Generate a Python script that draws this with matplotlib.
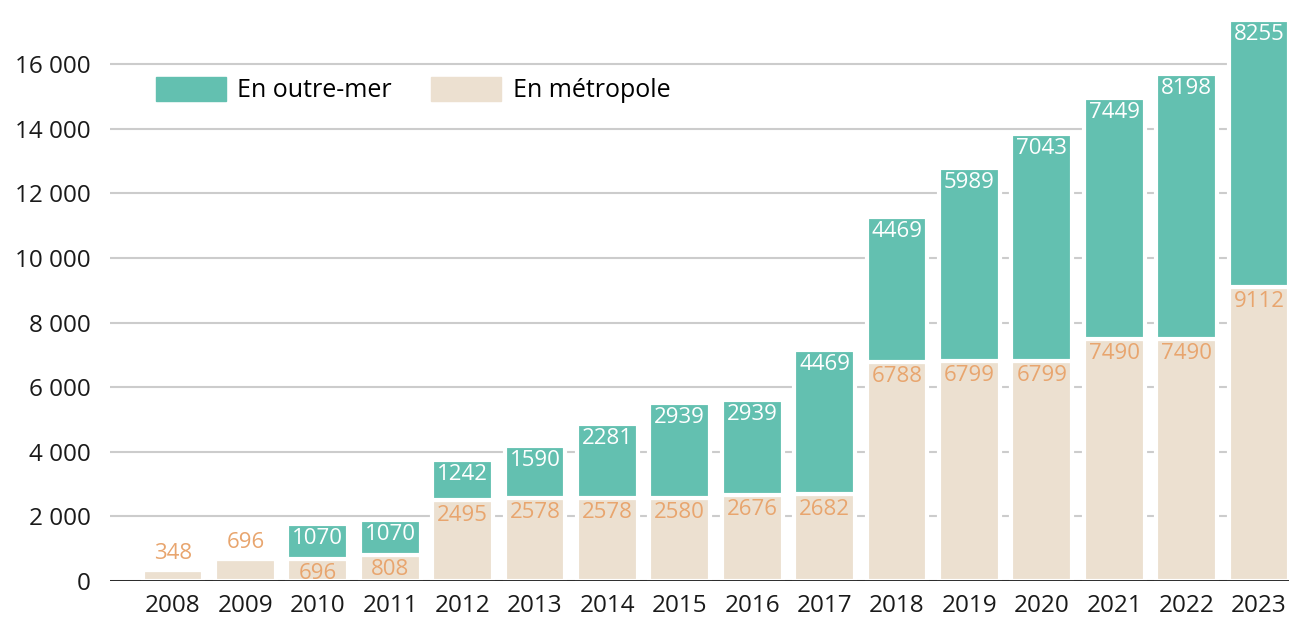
import matplotlib
matplotlib.use('Agg')
import matplotlib.pyplot as plt
import numpy as np
from matplotlib.patches import Patch

# données
annees = ['2008', '2009', '2010', '2011', '2012', '2013', '2014', '2015',
          '2016', '2017', '2018', '2019', '2020', '2021', '2022', '2023']
metropole = [348, 696, 696, 808, 2495, 2578, 2578, 2580,
             2676, 2682, 6788, 6799, 6799, 7490, 7490, 9112]
outre_mer = [0, 0, 1070, 1070, 1242, 1590, 2281, 2939,
             2939, 4469, 4469, 5989, 7043, 7449, 8198, 8255]
yticks = [0, 2000, 4000, 6000, 8000, 10000, 12000, 14000, 16000]

c_teal = '#63c0b0'
c_beige = '#ece0d0'
c_orange = '#e8a56e'

plt.rcParams['font.family'] = ['Open Sans', 'DejaVu Sans']

fig = plt.figure(figsize=(12.89, 6.21), dpi=100)
ax = fig.add_axes([110 / 1289, 40 / 621, 1179 / 1289, 581.6 / 621])

x = np.arange(len(annees))
w = 0.84
ax.bar(x, metropole, width=w, color=c_beige, edgecolor='white', linewidth=3, zorder=2)
ax.bar(x, outre_mer, width=w, bottom=metropole, color=c_teal, edgecolor='white',
       linewidth=3, zorder=2)

for i in range(len(annees)):
    m = metropole[i]
    o = outre_mer[i]
    if o == 0:
        ax.annotate(str(m), (x[i], m), xytext=(0, 4), textcoords='offset points',
                    ha='center', va='bottom', color=c_orange, fontsize=16, zorder=3)
    else:
        ax.annotate(str(m), (x[i], m), xytext=(0, -3), textcoords='offset points',
                    ha='center', va='top', color=c_orange, fontsize=16, zorder=3)
        ax.annotate(str(o), (x[i], m + o), xytext=(0, -3), textcoords='offset points',
                    ha='center', va='top', color='white', fontsize=16, zorder=3)

ax.set_xlim((110 - 173) / 72.4, (1289 - 173) / 72.4)
ax.set_ylim(0, 18000)
ax.set_yticks(yticks)
ax.set_yticklabels([f'{v:,}'.replace(',', ' ') for v in yticks])
ax.set_xticks(x)
ax.set_xticklabels(annees)
ax.tick_params(axis='y', length=0, pad=14, labelsize=17.5, colors='#1a1a1a')
ax.tick_params(axis='x', length=0, pad=9, labelsize=17.5, colors='#1a1a1a')

ax.grid(axis='y', color='#cccccc', linewidth=1.5, zorder=0)
ax.set_axisbelow(True)
for s in ['top', 'right', 'left', 'bottom']:
    ax.spines[s].set_visible(False)
ax.axhline(0, color='#1a1a1a', linewidth=2, zorder=4)

# légende
handles = [Patch(color=c_teal, label='En outre-mer'),
           Patch(color=c_beige, label='En métropole')]
fig.legend(handles=handles, loc='center left', bbox_to_anchor=(133 / 1289, 1 - 90 / 621),
           ncol=2, frameon=False, fontsize=18, handlelength=2.8, handleheight=1.1,
           handletextpad=0.45, columnspacing=1.6)

plt.savefig('out.png', dpi=100)
